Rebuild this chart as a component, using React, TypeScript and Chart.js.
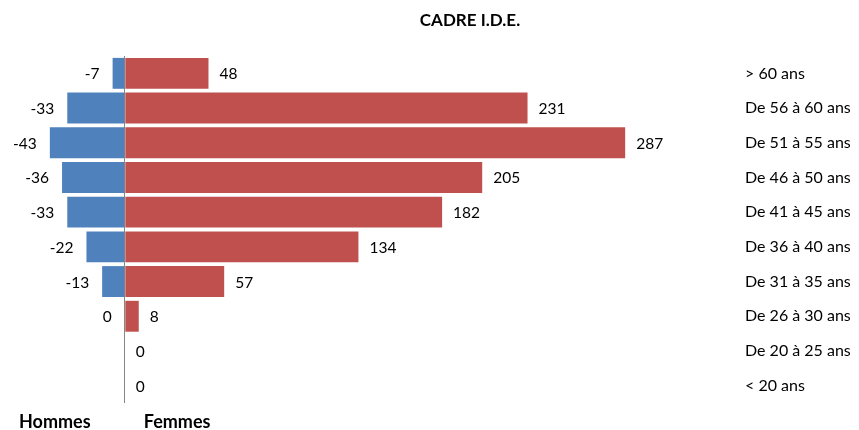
import React, { useEffect, useRef } from "react";
import { Chart, registerables } from "chart.js";

Chart.register(...registerables);

const categories = [
  "> 60 ans",
  "De 56 à 60 ans",
  "De 51 à 55 ans",
  "De 46 à 50 ans",
  "De 41 à 45 ans",
  "De 36 à 40 ans",
  "De 31 à 35 ans",
  "De 26 à 30 ans",
  "De 20 à 25 ans",
  "< 20 ans",
];
const hommes = [-7, -33, -43, -36, -33, -22, -13, 0, 0, 0];
const femmes = [48, 231, 287, 205, 182, 134, 57, 8, 0, 0];
const hommesLabels = ["-7", "-33", "-43", "-36", "-33", "-22", "-13", "0", "", ""];
const femmesLabels = ["48", "231", "287", "205", "182", "134", "57", "8", "0", "0"];
const title = "CADRE I.D.E.";
const leftLabel = "Hommes";
const rightLabel = "Femmes";

const FONT = "Lato, 'Open Sans', sans-serif";

const labelsPlugin = {
  id: "pyramidLabels",
  afterDatasetsDraw(chart: any) {
    const ctx = chart.ctx;
    ctx.save();
    ctx.font = `15.5px ${FONT}`;
    ctx.fillStyle = "#000";
    ctx.textBaseline = "middle";
    const x = chart.scales.x;
    const zero = x.getPixelForValue(0);
    const m0 = chart.getDatasetMeta(0);
    const m1 = chart.getDatasetMeta(1);
    m0.data.forEach((bar: any, i: number) => {
      const t = hommesLabels[i];
      if (!t) return;
      ctx.textAlign = "right";
      ctx.fillText(t, Math.min(bar.x, zero) - 13, bar.y + 1);
    });
    m1.data.forEach((bar: any, i: number) => {
      const t = femmesLabels[i];
      if (!t) return;
      ctx.textAlign = "left";
      ctx.fillText(t, Math.max(bar.x, zero) + 11, bar.y + 1);
    });
    // title
    ctx.font = `bold 17px ${FONT}`;
    ctx.textAlign = "center";
    ctx.fillText(title, 470, 21);
    // bottom labels
    ctx.font = `bold 18px ${FONT}`;
    ctx.textAlign = "left";
    ctx.fillText(leftLabel, 19, 422);
    ctx.fillText(rightLabel, zero + 19, 422);
    ctx.restore();
  },
};

export default function App() {
  const ref = useRef<HTMLCanvasElement>(null);
  useEffect(() => {
    if (!ref.current) return;
    const chart = new Chart(ref.current, {
      type: "bar",
      data: {
        labels: categories,
        datasets: [
          {
            label: leftLabel,
            data: hommes,
            backgroundColor: "#4F81BD",
            barPercentage: 0.89,
            categoryPercentage: 1,
          },
          {
            label: rightLabel,
            data: femmes,
            backgroundColor: "#C0504D",
            barPercentage: 0.89,
            categoryPercentage: 1,
          },
        ],
      },
      options: {
        indexAxis: "y",
        animation: false,
        responsive: true,
        maintainAspectRatio: false,
        layout: { padding: { left: 8, right: 0, top: 56, bottom: 27 } },
        plugins: {
          legend: { display: false },
          tooltip: { enabled: false },
          title: { display: false },
        },
        scales: {
          x: {
            stacked: true,
            min: -67,
            max: 350,
            afterBuildTicks: (s: any) => {
              s.ticks = [{ value: 0 }];
            },
            afterFit: (s: any) => {
              s.height = 0;
            },
            ticks: { display: false },
            border: { display: false },
            grid: {
              drawTicks: false,
              color: "#868686",
              lineWidth: 1,
            },
          },
          y: {
            stacked: true,
            position: "right",
            afterFit: (s: any) => {
              s.width = 124;
            },
            border: { display: false },
            grid: { display: false, drawTicks: false },
            ticks: {
              padding: 10,
              color: "#000",
              font: { family: FONT, size: 16 },
            },
          },
        },
      },
      plugins: [labelsPlugin],
    });
    return () => chart.destroy();
  }, []);
  return (
    <div style={{ position: "fixed", left: 0, top: 0, width: 859, height: 430, background: "#fff" }}>
      <canvas ref={ref} />
    </div>
  );
}
